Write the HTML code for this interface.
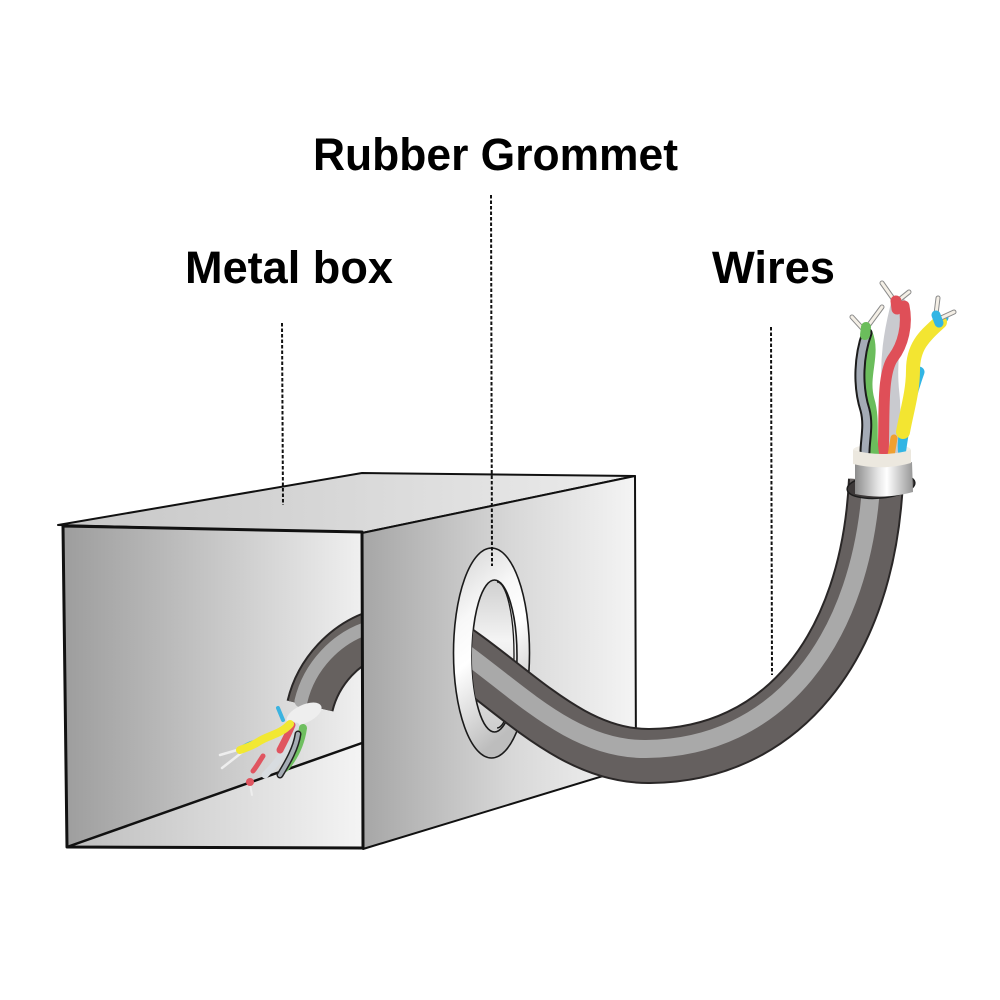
<!DOCTYPE html>
<html><head><meta charset="utf-8"><style>html,body{margin:0;padding:0;background:#fff}svg{display:block}</style></head>
<body>
<svg width="1000" height="1000" viewBox="0 0 1000 1000" xmlns="http://www.w3.org/2000/svg">
<defs>
<linearGradient id="gTop" x1="0" y1="0" x2="1" y2="0"><stop offset="0" stop-color="#c6c6c6"/><stop offset="0.5" stop-color="#d8d8d8"/><stop offset="1" stop-color="#ececec"/></linearGradient>
<linearGradient id="gRight" x1="0" y1="0" x2="1" y2="0"><stop offset="0" stop-color="#a6a6a6"/><stop offset="0.55" stop-color="#d8d8d8"/><stop offset="1" stop-color="#f4f4f4"/></linearGradient>
<linearGradient id="gWall" x1="0" y1="0" x2="1" y2="0"><stop offset="0" stop-color="#9d9d9d"/><stop offset="0.5" stop-color="#c6c6c6"/><stop offset="1" stop-color="#f0f0f0"/></linearGradient>
<linearGradient id="gFloor" x1="0" y1="0" x2="1" y2="0"><stop offset="0" stop-color="#bdbdbd"/><stop offset="1" stop-color="#f4f4f4"/></linearGradient>
<linearGradient id="gRing" x1="0" y1="0" x2="0.3" y2="1"><stop offset="0" stop-color="#d2d2d2"/><stop offset="0.35" stop-color="#f8f8f8"/><stop offset="0.55" stop-color="#ffffff"/><stop offset="1" stop-color="#bdbdbd"/></linearGradient>
<linearGradient id="gHole" x1="0" y1="0" x2="0" y2="1"><stop offset="0" stop-color="#cfcfcf"/><stop offset="0.4" stop-color="#f4f4f4"/><stop offset="1" stop-color="#cdcdcd"/></linearGradient>
<linearGradient id="gFoil" x1="0" y1="0" x2="1" y2="0"><stop offset="0" stop-color="#8c8c8c"/><stop offset="0.4" stop-color="#e6e6e6"/><stop offset="0.55" stop-color="#ffffff"/><stop offset="1" stop-color="#969696"/></linearGradient>
<clipPath id="cCable"><ellipse cx="494.5" cy="656" rx="22.5" ry="76"/><rect x="494" y="0" width="506" height="1000"/></clipPath>
<clipPath id="cFront"><polygon points="63,526 362,532 363,848 67,847"/></clipPath>
</defs>
<rect width="1000" height="1000" fill="#fff"/>

<!-- Box -->
<polygon points="58,525 362,473 635,476 362,533" fill="url(#gTop)" stroke="#111" stroke-width="2" stroke-linejoin="round"/>
<polygon points="362,533 635,476 636,766 363,849" fill="url(#gRight)" stroke="#111" stroke-width="2" stroke-linejoin="round"/>
<polygon points="63,526 362,532 363,848 67,847" fill="url(#gWall)"/>
<polygon points="67,847 362,743 363,848" fill="url(#gFloor)"/>
<line x1="67" y1="847" x2="362" y2="743" stroke="#111" stroke-width="2.5"/>

<!-- inner cable -->
<g clip-path="url(#cFront)">
<path d="M 380 632 C 345 642, 318 672, 310 706" fill="none" stroke="#2a2727" stroke-width="48"/>
<path d="M 380 632 C 345 642, 318 672, 310 706" fill="none" stroke="#66615f" stroke-width="44"/>
<path d="M 380 632 C 345 642, 318 672, 310 706" transform="translate(-9,-5)" fill="none" stroke="#a7a7a7" stroke-width="13" stroke-linecap="round"/>
</g>
<ellipse cx="304" cy="714" rx="19" ry="9" transform="rotate(-25 304 714)" fill="#eeeeee"/>
<g fill="none" stroke-linecap="round">
<path d="M 245 750 L 222 768" stroke="#eee" stroke-width="2.5"/>
<path d="M 244 748 L 220 755" stroke="#eee" stroke-width="2.5"/>
<path d="M 296 726 C 290 745, 280 760, 265 775" stroke="#d8dce0" stroke-width="7"/>
<path d="M 283 720 L 278 708" stroke="#3bb3e0" stroke-width="4"/>
<path d="M 244 747 C 250 743, 255 742, 259 742" stroke="#3bb3e0" stroke-width="5"/>
<path d="M 292 725 C 288 735, 284 742, 280 750" stroke="#e05560" stroke-width="7"/>
<path d="M 263 756 C 259 762, 257 766, 253 771" stroke="#e05560" stroke-width="5"/>
<path d="M 290 724 C 280 735, 268 735, 258 742 C 252 746, 246 748, 240 750" stroke="#f2e832" stroke-width="8"/>
<path d="M 303 728 C 301 742, 296 755, 285 768" stroke="#6fbf60" stroke-width="8"/>
<path d="M 298 734 C 296 748, 288 762, 280 775" stroke="#222" stroke-width="7"/>
<path d="M 298 734 C 296 748, 288 762, 280 775" stroke="#a6adb5" stroke-width="4"/>
<path d="M 250 784 L 252 795" stroke="#eee" stroke-width="2"/>
</g>
<circle cx="250" cy="782" r="4" fill="#e05560"/>
<polygon points="63,526 362,532 363,848 67,847" fill="none" stroke="#111" stroke-width="3" stroke-linejoin="round"/>

<!-- Grommet -->
<ellipse cx="491.5" cy="653" rx="38" ry="105" fill="url(#gRing)" stroke="#1a1a1a" stroke-width="1.6"/>
<ellipse cx="494.5" cy="656" rx="22.5" ry="76" fill="url(#gHole)" stroke="#1a1a1a" stroke-width="1.6"/>
<path d="M 497 582 A 17 73 0 0 1 497 728" fill="none" stroke="#1a1a1a" stroke-width="1.3"/>

<!-- Main cable -->
<g clip-path="url(#cCable)" fill="none">
<path d="M 455 650 C 520 695, 575 757, 650 756 C 780 755, 868 650, 876 480" stroke="#2a2727" stroke-width="56"/>
<path d="M 455 650 C 520 695, 575 757, 650 756 C 780 755, 868 650, 876 480" stroke="#65605f" stroke-width="52"/>
<path d="M 455 650 C 520 695, 575 757, 650 756 C 780 755, 868 650, 876 480" transform="translate(-4,-7)" stroke="#a9a9a9" stroke-width="18"/>
</g>

<!-- cable end -->
<ellipse cx="881" cy="486" rx="34" ry="12" transform="rotate(-6 881 486)" fill="#3d3939" stroke="#1d1d1d" stroke-width="1.5"/>
<path d="M 855 462 Q 883 470 912 462 L 913 492 Q 884 500 855 494 Z" fill="url(#gFoil)"/>
<ellipse cx="882" cy="450" rx="29" ry="6" fill="#f2efe8"/>

<g fill="none" stroke-linecap="round">
<path d="M 919 372 C 909 400, 904 425, 900 455" stroke="#32b5e4" stroke-width="11"/>
<path d="M 945 318 C 936 332, 926 338, 918 352" stroke="#32b5e4" stroke-width="7"/>
<path d="M 899 306 C 893 330, 887 360, 891 395 C 894 420, 887 440, 890 456" stroke="#c9cacf" stroke-width="17"/>
<path d="M 904 306 C 908 325, 903 345, 893 358 C 881 375, 885 420, 883 456" stroke="#df4f58" stroke-width="11"/>
<path d="M 867 333 C 876 355, 862 375, 869 400 C 875 420, 870 440, 874 456" stroke="#6bbd5c" stroke-width="11"/>
<path d="M 867 333 C 859 355, 857 385, 865 410 C 869 425, 865 440, 865 452" stroke="#1c1c1c" stroke-width="11"/>
<path d="M 867 333 C 859 355, 857 385, 865 410 C 869 425, 865 440, 865 452" stroke="#a4abb6" stroke-width="7"/>
<path d="M 940 322 C 926 335, 913 345, 913 370 C 913 392, 907 410, 903 432" stroke="#f3e531" stroke-width="14"/>
<path d="M 894 438 L 891 456" stroke="#f0a030" stroke-width="7"/>
<!-- tips -->
<path d="M 862 328 L 852 317" stroke="#8a8a8a" stroke-width="5"/><path d="M 862 328 L 852 317" stroke="#f4efe6" stroke-width="3"/>
<path d="M 868 326 L 882 307" stroke="#8a8a8a" stroke-width="5"/><path d="M 868 326 L 882 307" stroke="#f4efe6" stroke-width="3"/>
<path d="M 865 335 L 866 327" stroke="#6bbd5c" stroke-width="10"/>
<path d="M 894 300 L 882 283" stroke="#8a8a8a" stroke-width="5"/><path d="M 894 300 L 882 283" stroke="#f4efe6" stroke-width="3"/>
<path d="M 899 300 L 909 292" stroke="#8a8a8a" stroke-width="5"/><path d="M 899 300 L 909 292" stroke="#f4efe6" stroke-width="3"/>
<path d="M 897 309 L 896 301" stroke="#df4f58" stroke-width="11"/>
<path d="M 936 314 L 938 298" stroke="#8a8a8a" stroke-width="5"/><path d="M 936 314 L 938 298" stroke="#f4efe6" stroke-width="3"/>
<path d="M 941 318 L 954 312" stroke="#8a8a8a" stroke-width="5"/><path d="M 941 318 L 954 312" stroke="#f4efe6" stroke-width="3"/>
<path d="M 939 323 L 936 315" stroke="#32b5e4" stroke-width="9"/>
</g>
<path d="M 853 450 Q 882 458 911 450 L 911 463 Q 882 471 853 464 Z" fill="#ece8df"/>

<!-- leaders -->
<g stroke="#111" stroke-width="2" stroke-dasharray="3.5 2" fill="none">
<line x1="282" y1="323" x2="283" y2="505"/>
<line x1="491" y1="195" x2="492" y2="566"/>
<line x1="771" y1="327" x2="772" y2="675"/>
</g>

<!-- labels -->
<g font-family="Liberation Sans, Arial, sans-serif" font-weight="bold" font-size="45" fill="#000">
<text x="313" y="170" textLength="365" lengthAdjust="spacingAndGlyphs">Rubber Grommet</text>
<text x="185" y="283" textLength="208" lengthAdjust="spacingAndGlyphs">Metal box</text>
<text x="712" y="283" textLength="123" lengthAdjust="spacingAndGlyphs">Wires</text>
</g>
</svg>
</body></html>
